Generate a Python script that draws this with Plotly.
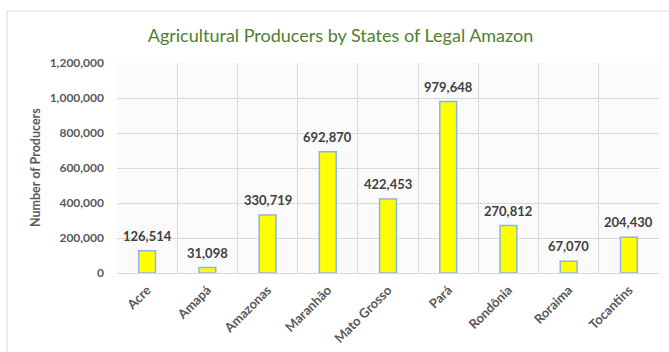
import base64
import plotly.graph_objects as go

states = ["Acre", "Amapá", "Amazonas", "Maranhão", "Mato Grosso", "Pará",
          "Rondônia", "Roraima", "Tocantins"]
producers = [126514, 31098, 330719, 692870, 422453, 979648, 270812, 67070, 204430]
y_ticks = [0, 200000, 400000, 600000, 800000, 1000000, 1200000]
y_tick_labels = ["0", "200,000", "400,000", "600,000", "800,000", "1,000,000", "1,200,000"]

W, H = 669, 352
L, R, T, B = 117, 10, 63, 79
PW, PH = W - L - R, H - T - B

hatch_svg = f'''<svg xmlns="http://www.w3.org/2000/svg" width="{PW}" height="{PH}" viewBox="0 0 {PW} {PH}">
<defs><pattern id="p" patternUnits="userSpaceOnUse" width="4" height="4">
<path d="M-1,-1 L5,5 M-1,3 L1,5 M3,-1 L5,1" stroke="#f0f0f0" stroke-width="1"/>
</pattern></defs>
<rect width="100%" height="100%" fill="white"/>
<rect width="100%" height="100%" fill="url(#p)"/>
</svg>'''
hatch_uri = "data:image/svg+xml;base64," + base64.b64encode(hatch_svg.encode()).decode()

label_font = dict(family="Lato", size=13, color="#404040")

fig = go.Figure(go.Bar(
    x=states,
    y=producers,
    width=0.28,
    marker=dict(color="#FFFF00", line=dict(color="#8EB4E3", width=1.5)),
    hoverinfo="x+y",
))

value_labels = [dict(
    x=s, y=v, xref="x", yref="y",
    text=f"<b>{v:,}</b>", showarrow=False,
    xanchor="center", yanchor="bottom", yshift=5,
    font=label_font,
) for s, v in zip(states, producers)]

fig.update_layout(
    width=W, height=H,
    margin=dict(l=L, r=R, t=T, b=B, autoexpand=False),
    paper_bgcolor="white",
    plot_bgcolor="white",
    showlegend=False,
    title=dict(
        text="Agricultural Producers by States of Legal Amazon",
        x=(148 + 533) / 2 / W, xanchor="center",
        y=1 - 36 / H, yanchor="middle", yref="container",
        font=dict(family="Lato", size=18, color="#4E8030"),
    ),
    xaxis=dict(
        type="category",
        range=[-0.5, len(states) - 0.5],
        tickson="boundaries",
        showgrid=True, gridcolor="#D9D9D9", gridwidth=1,
        ticks="", tickangle=-45, ticklabelstandoff=6,
        tickfont=dict(family="Lato", size=13, color="#595959", weight="bold"),
        showline=False, zeroline=False, automargin=False,
    ),
    yaxis=dict(
        range=[0, 1200000],
        tickvals=y_ticks, ticktext=y_tick_labels,
        showgrid=True, gridcolor="#D9D9D9", gridwidth=1,
        zeroline=True, zerolinecolor="#D9D9D9", zerolinewidth=1,
        ticks="", ticklabelstandoff=12,
        tickfont=dict(family="Lato", size=12, color="#595959", weight="bold"),
        showline=False, automargin=False,
    ),
    images=[dict(
        source=hatch_uri, xref="paper", yref="paper",
        x=0, y=1, sizex=1, sizey=1, sizing="stretch",
        xanchor="left", yanchor="top", layer="below",
    )],
    annotations=value_labels + [dict(
        text="<b>Number of Producers</b>",
        xref="paper", yref="paper",
        x=(35 - L) / PW, y=0.5, xanchor="center", yanchor="middle",
        textangle=-90, showarrow=False,
        font=dict(family="Lato", size=12.5, color="#595959"),
    )],
    shapes=[dict(
        type="path", xref="paper", yref="paper",
        path=f"M {(7 - L) / PW},{-B / PH} L {(7 - L) / PW},{1 + (T - 11) / PH} L {1 + R / PW},{1 + (T - 11) / PH}",
        line=dict(color="#D9D9D9", width=1),
    )],
)

fig.write_html(
    "out.html",
    config={"displayModeBar": False},
    post_script="document.body.style.margin='0';document.body.style.overflow='hidden';",
)
